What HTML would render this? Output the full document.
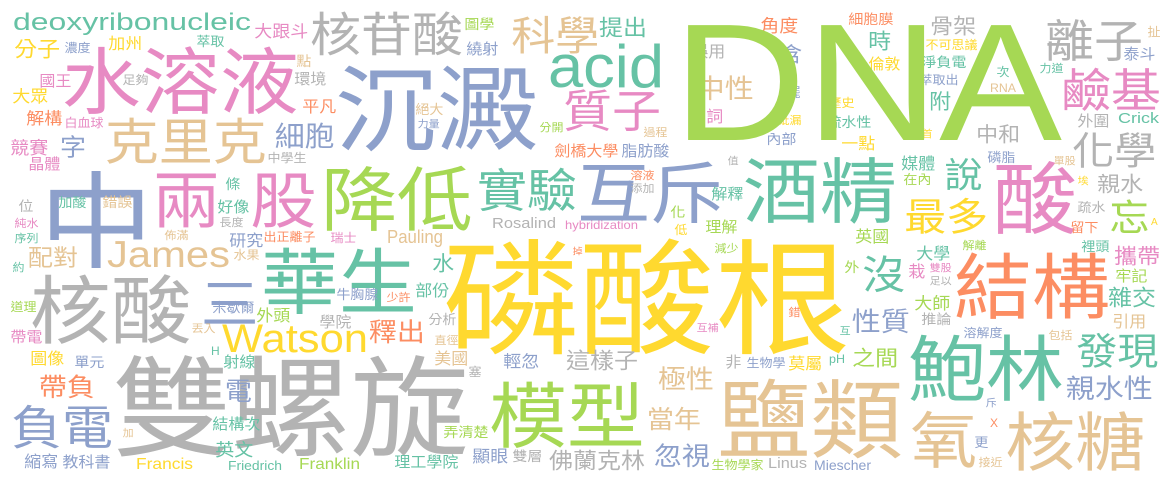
<!DOCTYPE html>
<html><head><meta charset="utf-8"><style>
html,body{margin:0;padding:0;background:#fff;width:1175px;height:482px;overflow:hidden}
svg{display:block}
</style></head><body>
<svg id="cloud" width="1175" height="482" viewBox="0 0 1175 482" xmlns="http://www.w3.org/2000/svg">
<rect x="0" y="0" width="1175" height="482" fill="#ffffff"/>
</svg>
<script>
const C={g:'#66c2a5',o:'#fc8d62',b:'#8da0cb',p:'#e78ac3',l:'#a6d854',y:'#ffd92f',t:'#e5c494',k:'#b3b3b3'};
// CJK words: [text, color, left, inkBottom, fontSize]
const cjk=[
['水溶液','p',65,113,79],['沉澱','b',339,150,102],['核苷酸','k',312,55,51],['科學','t',513,53,44],
['克里克','t',107,163,54],['中','b',44,267,114],['兩','p',155,227,68],['股','p',253,227,66],
['降低','l',324,230,76],['實驗','g',479,210,50],['互斥','b',580,222,73],['酒精','g',746,222,77],
['酸','p',996,233,85],['磷酸根','y',448,353,136],['華生','g',264,313,78],['核酸','k',33,343,81],
['三','b',203,327,58],['雙螺旋','k',117,455,119],['模型','l',492,447,78],['負電','b',13,448,51],
['鹽類','t',721,457,93],['鮑林','g',911,400,78],['結構','o',957,318,78],['氧','t',913,467,67],
['核糖','t',1008,470,70],['離子','k',1047,60,49],['鹼基','p',1063,110,50],['化學','k',1074,167,42],
['最多','y',906,233,42],['發現','g',1078,367,41],['沒','g',864,292,43],['說','g',946,190,38],
['忘','l',1111,233,40],['質子','p',565,130,49],['細胞','b',276,148,30],
['大跟斗','p',255,38,18],['分子','y',15,58,23],['濃度','b',65,53,13],['加州','y',109,50,17],
['萃取','g',197,47,14],['圖學','l',465,30,15],['繞射','b',467,55,16],['點','t',297,67,15],
['環境','k',295,85,16],['國王','p',40,87,16],['足夠','k',123,85,13],['大眾','y',13,103,18],
['平凡','o',303,113,17],['絕大','t',416,115,14],['解構','o',27,125,18],['白血球','p',65,128,13],
['力量','b',418,128,11],['分開','l',540,132,12],['字','b',61,157,26],['競賽','p',11,155,19],
['晶體','p',29,170,16],['中學生','k',268,163,13],['劍橋大學','o',555,157,16],['脂肪酸','b',622,157,16],
['條','g',226,190,15],['加酸','g',59,208,14],['錯誤','t',103,208,15],['位','k',19,212,15],
['好像','g',218,213,16],['純水','p',15,228,12],['長度','k',220,227,12],['序列','g',15,243,12],
['佈滿','t',165,240,12],['研究','b',230,247,17],['出正離子','o',264,242,13],['瑞士','p',331,243,13],
['配對','t',29,267,25],['水果','t',234,260,13],['約','g',13,272,12],['水','g',433,272,22],
['牛胸腺','b',337,300,14],['少許','o',387,302,12],['部份','g',416,297,17],['米歇爾','b',213,313,14],
['外頭','l',257,322,17],['道理','l',11,312,13],['學院','k',320,328,16],['分析','k',429,325,14],
['帶電','p',11,343,16],['丟入','t',192,333,12],['釋出','o',370,343,28],['直徑','t',435,345,12],
['圖像','y',31,365,17],['單元','b',75,368,15],['射線','g',224,368,16],['美國','t',435,365,17],
['塞','k',469,377,13],['輕忽','b',504,368,18],['這樣子','k',567,370,24],['帶負','o',40,398,28],
['電','b',226,402,27],['結構次','g',213,430,16],['加','t',123,437,11],['弄清楚','l',444,438,15],
['英文','g',216,457,19],['縮寫','b',25,468,17],['教科書','b',63,468,16],['理工學院','g',395,468,16],
['顯眼','b',473,463,18],['雙層','k',513,462,15],['佛蘭克林','k',550,470,24],['掉','o',573,255,10],
['提出','g',600,37,24],['角度','o',761,33,19],['細胞膜','o',849,25,15],['骨架','k',931,35,23],
['扯','t',1148,37,13],['誤用','k',692,58,17],['含','b',781,63,22],['時','g',869,50,23],
['不可思議','y',926,50,13],['倫敦','y',869,70,16],['淨負電','g',922,68,15],['泰斗','b',1124,60,16],
['次','g',997,77,13],['力道','g',1040,73,12],['萃取出','b',920,85,13],['中性','t',697,100,29],
['擺','b',787,98,14],['附','g',930,110,22],['歷史','y',829,108,13],['名詞','p',690,123,17],
['紕漏','y',778,125,12],['疏水性','g',827,128,15],['外圍','k',1078,127,16],['過程','t',644,137,12],
['中和','k',977,143,22],['內部','b',767,145,15],['首','y',922,138,11],['一點','y',842,150,17],
['值','k',728,165,11],['磷脂','b',988,163,14],['單股','t',1054,165,11],['溶液','o',631,180,12],
['添加','k',631,193,12],['媒體','g',902,170,17],['在內','l',904,185,14],['親水','k',1098,193,23],
['埃','y',1078,185,11],['解釋','g',712,200,16],['化','l',671,218,15],['疏水','k',1078,213,14],
['低','y',675,235,13],['理解','l',706,233,16],['英國','l',856,243,17],['留下','o',1071,233,14],
['減少','l',715,253,12],['解離','l',963,250,12],['大學','g',917,260,17],['裡頭','g',1082,252,14],
['攜帶','p',1115,265,23],['外','l',845,273,15],['栽','p',909,278,17],['雙股','p',930,272,11],
['足以','k',930,285,11],['牢記','l',1116,282,16],['大師','l',915,310,18],['雜交','g',1109,307,24],
['錯','o',789,317,12],['推論','k',922,325,15],['性質','b',853,333,29],['互補','p',697,332,11],
['引用','t',1113,328,17],['溶解度','b',964,338,13],['互','g',840,335,11],['包括','t',1049,340,12],
['之間','l',853,367,23],['非','k',726,368,16],['生物學','b',747,368,13],['莫屬','y',789,370,17],
['極性','t',659,390,28],['親水性','b',1067,400,29],['當年','t',648,430,27],['斥','b',986,407,11],
['更','b',975,448,14],['忽視','b',655,467,28],['生物學家','l',712,470,13],['接近','t',979,467,12]
];
// Latin words: [text, color, left, baseline, fontSize, width]
const latin=[
['DNA','l',673,140,167,389],['acid','g',548,87,60,116],['James','t',107,267,37,123],
['Watson','y',222,352,40,146],['deoxyribonucleic','g',13,30,24,238],['Rosalind','k',492,228,15,64],
['hybridization','p',565,229,12,73],['Pauling','t',387,243,18,56],['Francis','y',136,469,16,57],
['Friedrich','g',228,470,13,54],['Franklin','l',299,469,16,61],['RNA','t',990,92,12,26],
['Crick','g',1118,123,15,41],['Linus','k',768,468,15,39],['Miescher','b',814,470,14,57],
['H','g',211,355,12,0],['A','y',1151,225,10,0],['X','o',990,427,12,0],['pH','g',829,363,12,16]
];
const svg=document.getElementById('cloud');
const NS='http://www.w3.org/2000/svg';
cjk.forEach(w=>{
  const t=document.createElementNS(NS,'text');
  
  
  const x=(w[2]-0.04*w[4]).toFixed(1), y=(w[3]-0.065*w[4]).toFixed(1);
  t.setAttribute('transform','translate('+x+','+y+') scale(1,0.92)');
  t.setAttribute('x',0);
  t.setAttribute('y',0);
  t.setAttribute('font-size',w[4]);
  t.setAttribute('fill',C[w[1]]);
  t.setAttribute('font-family','"Liberation Sans","Noto Sans CJK TC",sans-serif');
  t.textContent=w[0];
  svg.appendChild(t);
});
latin.forEach(w=>{
  const t=document.createElementNS(NS,'text');
  
  
  t.setAttribute('x',w[2]);
  t.setAttribute('y',w[3]);
  t.setAttribute('font-size',w[4]);
  t.setAttribute('fill',C[w[1]]);
  t.setAttribute('font-family','"Liberation Sans",sans-serif');
  if(w[5]){t.setAttribute('textLength',w[5]);t.setAttribute('lengthAdjust','spacingAndGlyphs');}
  t.textContent=w[0];
  svg.appendChild(t);
});
</script>
</body></html>
